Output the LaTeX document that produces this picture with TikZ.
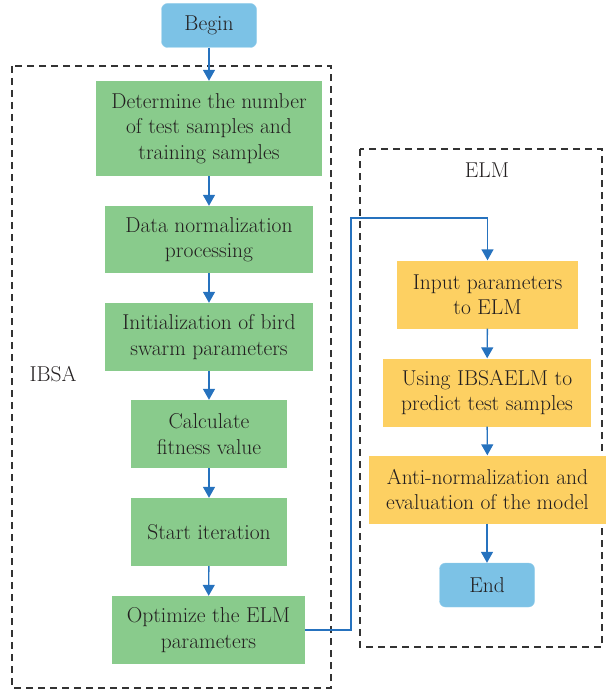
\documentclass[tikz,border=0pt]{standalone}
\usetikzlibrary{arrows.meta,positioning}
\definecolor{txt}{HTML}{231F20}
\definecolor{termfill}{HTML}{7CC2E6}
\definecolor{greenfill}{HTML}{89CB8C}
\definecolor{orangefill}{HTML}{FDD062}
\definecolor{flowblue}{HTML}{2672BE}
\definecolor{frame}{HTML}{333333}
\begin{document}
\begin{tikzpicture}[x=1pt,y=-1pt,
  every node/.style={text=txt,font=\fontsize{21.5}{25.5}\selectfont,align=center,inner sep=0pt},
  term/.style={fill=termfill,draw=termfill!80!white,rounded corners=6pt,minimum width=95pt,minimum height=44pt},
  gbox/.style={fill=greenfill,minimum height=67pt},
  obox/.style={fill=orangefill,minimum height=68pt},
  flow/.style={draw=flowblue,line width=1.4pt,-{Triangle[length=11pt,width=12pt]}},
  group/.style={draw=frame,line width=1.2pt,dash pattern=on 7pt off 5pt}]
\useasboundingbox (0,0) rectangle (607,690);

% dashed group frames
\draw[group] (12,66) rectangle (331,688);
\draw[group] (360,149) rectangle (602,647);
\node (ibsa) at (53,374) {IBSA};
\node (elm) at (487,170) {ELM};

% left column
\node[term] (begin) at (209,25.5) {Begin};
\node[gbox,minimum width=226pt,minimum height=95pt] (b1) at (209,128.5) {Determine the number\\of test samples and\\training samples};
\node[gbox,minimum width=208pt] (b2) at (209,239.5) {Data normalization\\processing};
\node[gbox,minimum width=208pt,minimum height=68pt] (b3) at (209,337) {Initialization of bird\\swarm parameters};
\node[gbox,minimum width=156pt,minimum height=68pt] (b4) at (209,434) {Calculate\\fitness value};
\node[gbox,minimum width=156pt,minimum height=68pt] (b5) at (209,532) {Start iteration};
\node[gbox,minimum width=193pt,minimum height=68pt] (b6) at (208.5,630) {Optimize the ELM\\parameters};

% right column
\node[obox,minimum width=181pt] (b7) at (487.5,294.5) {Input parameters\\to ELM};
\node[obox,minimum width=208pt] (b8) at (487,392.5) {Using IBSAELM to\\predict test samples};
\node[obox,minimum width=237pt] (b9) at (487.5,489.5) {Anti-normalization and\\evaluation of the model};
\node[term] (end) at (487,585) {End};

% connectors
\draw[flow] (begin) -- (b1);
\draw[flow] (b1) -- (b2);
\draw[flow] (b2) -- (b3);
\draw[flow] (b3) -- (b4);
\draw[flow] (b4) -- (b5);
\draw[flow] (b5) -- (b6);
\coordinate (turnA) at (351,630);
\coordinate (turnB) at (351,218);
\coordinate (turnC) at (487.5,218);
\draw[flow] (b6.east) -- (turnA) -- (turnB) -- (turnC) -- (b7.north);
\draw[flow] (b7) -- (b8);
\draw[flow] (b8) -- (b9);
\draw[flow] (b9.south -| end.north) -- (end);
\end{tikzpicture}
\end{document}
